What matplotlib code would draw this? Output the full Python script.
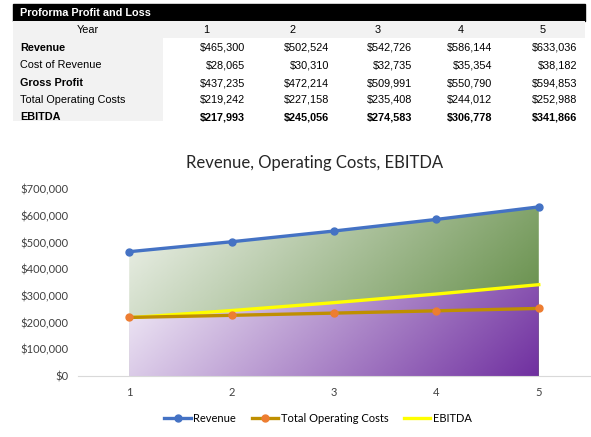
import numpy as np
import matplotlib
matplotlib.use('Agg')
import matplotlib.pyplot as plt
from matplotlib.colors import LinearSegmentedColormap
from matplotlib.patches import Rectangle

years = [1, 2, 3, 4, 5]
revenue = [465300, 502524, 542726, 586144, 633036]
cost_of_revenue = [28065, 30310, 32735, 35354, 38182]
gross_profit = [437235, 472214, 509991, 550790, 594853]
total_operating_costs = [219242, 227158, 235408, 244012, 252988]
ebitda = [217993, 245056, 274583, 306778, 341866]

row_labels = ["Revenue", "Cost of Revenue", "Gross Profit", "Total Operating Costs", "EBITDA"]
row_values = [revenue, cost_of_revenue, gross_profit, total_operating_costs, ebitda]
label_bold = [True, False, True, False, True]
value_bold = [False, False, False, False, True]

W, H = 591, 437
fig = plt.figure(figsize=(W / 100, H / 100), dpi=100)

# table drawn in pixel coords
tab = fig.add_axes([0, 0, 1, 1])
tab.set_xlim(0, W)
tab.set_ylim(H, 0)
tab.axis('off')

tfont = 'Liberation Sans'
fs = 7.8
tab.add_patch(Rectangle((13, 4), 572, 17, color='black'))
tab.text(20, 13, "Proforma Profit and Loss", color='white', fontweight='bold',
         fontsize=fs, family=tfont, va='center')
tab.add_patch(Rectangle((13, 21), 572, 17, color='#f2f2f2', lw=0))
tab.add_patch(Rectangle((13, 38), 150, 83, color='#f2f2f2', lw=0))
tab.text(88, 30, "Year", fontsize=fs, family=tfont, va='center', ha='center')

col_center = [206, 293, 378, 461, 543]
col_right = [245, 329, 412, 492, 577]
for i, y in enumerate(years):
    tab.text(col_center[i], 30, str(y), fontsize=fs, family=tfont, va='center', ha='center')

row_y = [48, 65, 83, 100, 117]
for r, lab in enumerate(row_labels):
    tab.text(20, row_y[r], lab, fontsize=fs, family=tfont, va='center',
             fontweight='bold' if label_bold[r] else 'normal')
    for i, v in enumerate(row_values[r]):
        tab.text(col_right[i], row_y[r], "${:,}".format(v), fontsize=fs, family=tfont,
                 va='center', ha='right', fontweight='bold' if value_bold[r] else 'normal')

# chart
ax_h = 376 - 189
ax = fig.add_axes([78 / W, (H - 376) / H, 512 / W, ax_h / H])
ax.set_xlim(0.5, 5.5)
ax.set_ylim(0, 700000)

def gradient_area(yvals, c0, c1):
    poly = ax.fill_between(years, 0, yvals, color='none', lw=0)
    cmap = LinearSegmentedColormap.from_list('g', [c0, c1])
    # 45 degree gradient over the area's box, in pixel units
    wpx = (years[-1] - years[0]) / 5 * 512
    hpx = max(yvals) / 700000 * ax_h
    u = np.linspace(0, wpx, 300)
    v = np.linspace(0, hpx, 150)
    uu, vv = np.meshgrid(u, v)
    img = (uu + vv) / (wpx + hpx)
    im = ax.imshow(img, cmap=cmap, extent=[years[0], years[-1], 0, max(yvals)],
                   origin='upper', aspect='auto', zorder=1)
    im.set_clip_path(poly.get_paths()[0], transform=ax.transData)

gradient_area(revenue, '#f1f4ee', '#548235')
gradient_area(ebitda, '#f3eef8', '#7030a0')

ax.plot(years, revenue, color='#4472c4', lw=2.4, marker='o', ms=5, zorder=4, label='Revenue')
ax.plot(years, ebitda, color='#ffff00', lw=2.4, zorder=3, label='EBITDA')
ax.plot(years, total_operating_costs, color='#bf8f00', lw=2.4, marker='o', ms=5,
        mfc='#ed7d31', mec='#ed7d31', zorder=4, label='Total Operating Costs')
ax.set_xlim(0.5, 5.5)
ax.set_ylim(0, 700000)

cfont = ['Lato', 'DejaVu Sans']
for s in ['top', 'right', 'left']:
    ax.spines[s].set_visible(False)
ax.spines['bottom'].set_color('#d9d9d9')
ax.set_xticks(years)
ax.set_yticks(np.arange(0, 700001, 100000))
ax.set_yticklabels(["${:,}".format(int(t)) for t in np.arange(0, 700001, 100000)])
ax.tick_params(length=0, labelsize=8, labelcolor='#404040', pad=7)
for t in ax.get_xticklabels() + ax.get_yticklabels():
    t.set_family(cfont)
ax.tick_params(axis='x', pad=8)

fig.text(315 / W, 1 - 163 / H, "Revenue, Operating Costs, EBITDA", fontsize=12,
         family=cfont, ha='center', va='center', color='#262626')

h, l = ax.get_legend_handles_labels()
order = [0, 2, 1]
leg = fig.legend([h[i] for i in order], [l[i] for i in order], loc='center',
                 bbox_to_anchor=(318 / W, 1 - 418 / H), ncol=3, frameon=False,
                 prop={'family': cfont, 'size': 8}, handlelength=2.4, columnspacing=1.4,
                 handletextpad=0.2)

fig.savefig('out.png', dpi=100)
